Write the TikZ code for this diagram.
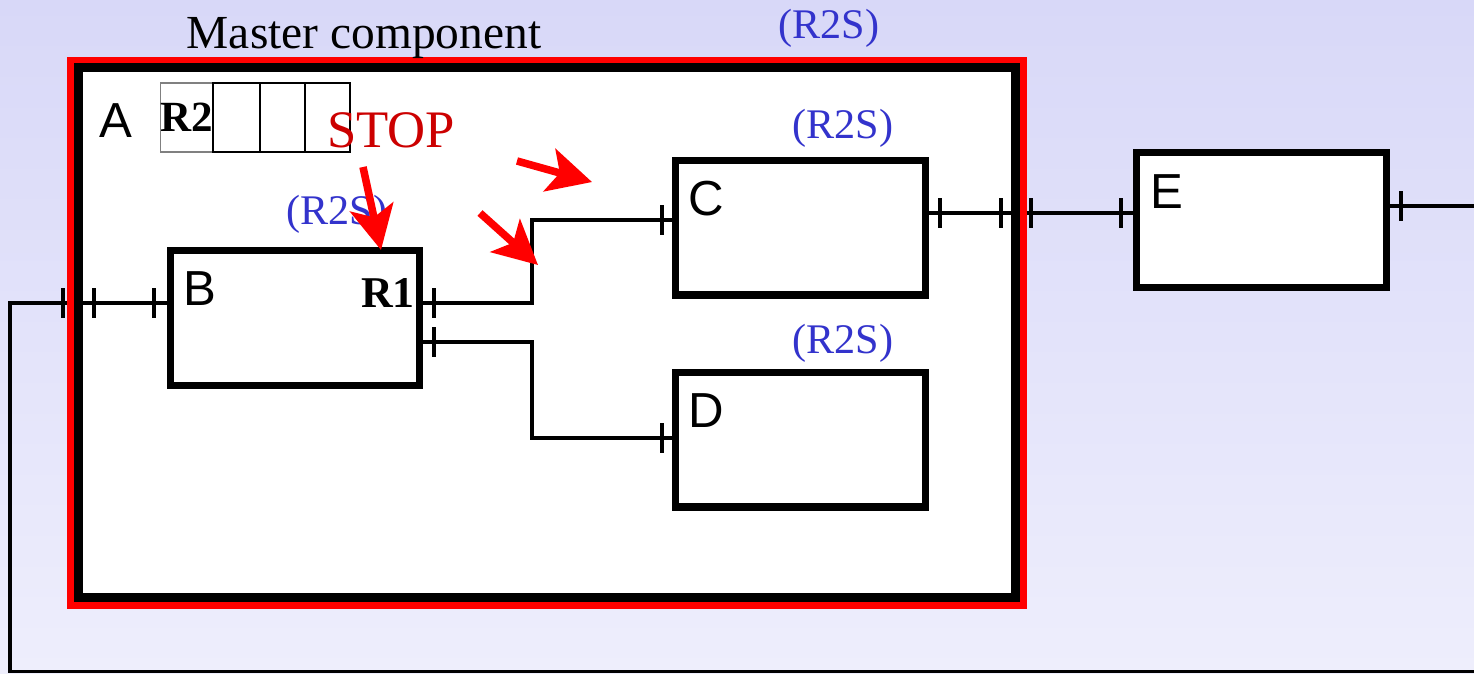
\documentclass[tikz,border=0pt]{standalone}
\usepackage{fontspec}
\setmainfont{Liberation Serif}
\setsansfont{Liberation Sans}
\usetikzlibrary{arrows.meta,calc,positioning}
\definecolor{bgtop}{RGB}{216,216,248}
\definecolor{bgbot}{RGB}{238,238,252}
\definecolor{rsblue}{RGB}{51,51,204}
\definecolor{stopred}{RGB}{204,0,0}

\begin{document}
\begin{tikzpicture}[x=0.02cm,y=-0.02cm,>=Stealth,
  comp/.style={draw,line width=4pt,fill=white,minimum width=5cm,minimum height=2.7cm,outer sep=0pt},
  wire/.style={line width=2pt},
  cell/.style={draw,line width=1.1pt,minimum height=1.38cm,outer sep=0pt,inner sep=0pt},
  tag/.style={font=\fontsize{24}{24}\selectfont,text=rsblue,anchor=base},
  lbl/.style={font=\sffamily\fontsize{28}{28}\selectfont,anchor=base},
  hint/.style={red,line width=4.3pt,-{Stealth[length=25pt,width=25pt,inset=6pt]}}]
  % Hintergrund
  \useasboundingbox (0,0) rectangle (1474,673);
  \shade[top color=bgtop,bottom color=bgbot] (0,0) rectangle (1474,673);
  % Master component: Innenflaeche
  \fill[white] (78.5,67.5) rectangle (1015.5,597.5);
  % Komponenten
  \node[comp] (B) at (295,318) {};
  \node[comp] (C) at (800.5,227.5) {};
  \node[comp] (D) at (800.5,439.5) {};
  \node[comp] (E) at (1261.5,220) {};
  % Verbindungen
  \coordinate (loopR) at (1474,671.5);
  \coordinate (loopL) at (10,671.5);
  \coordinate (jC) at (532,220);
  \coordinate (jD) at (532,438);
  \coordinate (eout) at (1474,206);
  \draw[wire] (loopR) -- (loopL) |- ($(B.west)+(0,-15)$);
  \draw[wire] ($(B.east)+(0,-15)$) -| (jC) -- ($(C.west)+(0,-7.5)$);
  \draw[wire] ($(B.east)+(0,24)$) -| (jD) -- ($(D.west)+(0,-1.5)$);
  \draw[wire] ($(C.east)+(0,-14.5)$) -- ($(E.west)+(0,-7)$);
  \draw[wire] ($(E.east)+(0,-14)$) -- (eout);
  \foreach \x/\y in {63/303,94/303,154/303,434/303,434/342,662/220,662/438,
                     940/213,1001/213,1031/213,1121/213,1401/206}
    \draw[wire] (\x,\y-15) -- (\x,\y+15);
  % Rahmen des Master component
  \draw[red,line width=4pt] (70.5,60.5) rectangle (1023.5,605.5);
  \draw[line width=5.1pt] (78.5,67.5) rectangle (1015.5,597.5);
  \node[comp,fill=none] at (B) {};
  \node[comp,fill=none] at (C) {};
  \node[comp,fill=none] at (D) {};
  \node[comp,fill=none] at (E) {};
  % Register
  \node[cell,minimum width=1.04cm,draw=gray,line width=0.6pt,
        font=\bfseries\fontsize{24.5}{25}\selectfont] (r1) at (187,117.5) {R2};
  \node[cell,minimum width=0.94cm,right=0pt of r1] (r2) {};
  \node[cell,minimum width=0.9cm,right=0pt of r2] (r3) {};
  \node[cell,minimum width=0.9cm,right=0pt of r3] (r4) {};
  % Beschriftungen
  \node[anchor=base,font=\fontsize{27}{27}\selectfont] (title) at (364,48) {Master component};
  \node[lbl] (la) at (116,137) {A};
  \node[lbl] (lb) at (200,305) {B};
  \node[lbl] (lc) at (706,215) {C};
  \node[lbl] (ld) at (706,427) {D};
  \node[lbl] (le) at (1167,208) {E};
  \node[anchor=base,font=\bfseries\fontsize{25}{25}\selectfont] (r1lbl) at (388,307) {R1};
  \node[tag] (tA) at (829,38) {(R2S)};
  \node[tag] (tC) at (843,138) {(R2S)};
  \node[tag] (tB) at (337,224) {(R2S)};
  \node[tag] (tD) at (843,353) {(R2S)};
  \node[anchor=base,text=stopred,font=\fontsize{30}{30}\selectfont] (stop) at (391,147) {STOP};
  % Hinweispfeile
  \coordinate (h1s) at (363,167); \coordinate (h1t) at (381,250);
  \coordinate (h2s) at (480,213); \coordinate (h2t) at (538,265);
  \coordinate (h3s) at (517,161); \coordinate (h3t) at (592,182);
  \draw[hint] (h1s) -- (h1t);
  \draw[hint] (h2s) -- (h2t);
  \draw[hint] (h3s) -- (h3t);
\end{tikzpicture}
\end{document}
